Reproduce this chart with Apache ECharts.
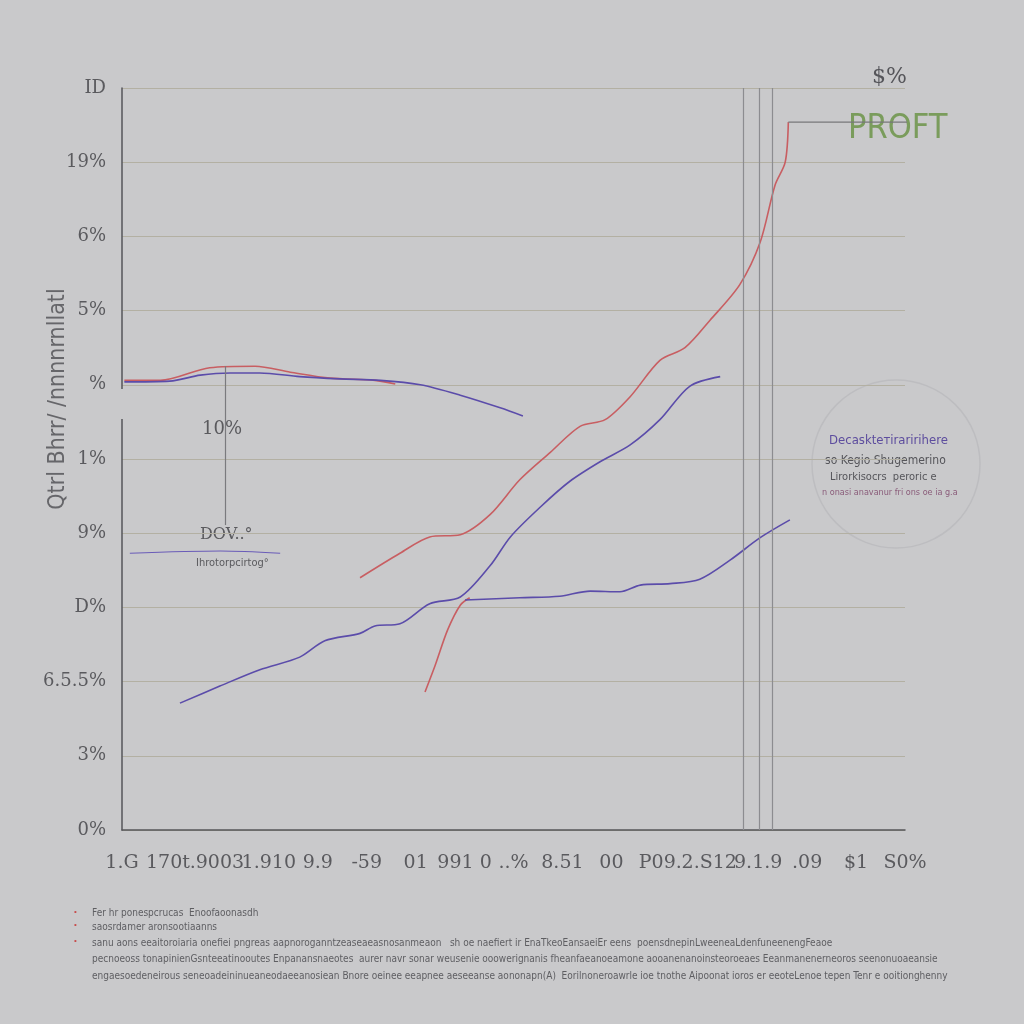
<!DOCTYPE html>
<html>
<head>
<meta charset="UTF-8">
<title>Profit chart</title>
<script src="https://cdn.jsdelivr.net/npm/echarts@6/dist/echarts.min.js"></script>
<style>
  html, body { margin: 0; padding: 0; background: #c9c9cb; }
  #chart { width: 1024px; height: 1024px; }
</style>
</head>
<body>
<div id="chart"></div>
<script>
// tick labels (garbled in the original)
const yLabels = ['0%', '3%', '6.5.5%', 'D%', '9%', '1%', '%', '5%', '6%', '19%', 'ID'];
const xLabels = ['1.G', '170t.', '9003', '1.910', '9.9', '-59', '01', '991 0', '..%', '8.51', '00', 'P09.', '2.S12', '9.1.9', '.09', '$1', 'S0%'];

// series as [x, y] pairs
const redTop = [[0.3,60.6],[4.9,60.6],[11.2,62.3],[17.0,62.5],[21.5,61.7],[26.6,60.9],[32.3,60.6],[34.9,60.1]];
const purpleTop = [[0.3,60.4],[6.1,60.5],[10.0,61.3],[13.8,61.6],[17.6,61.6],[22.7,61.1],[27.8,60.8],[33.0,60.6],[38.1,60.0],[43.2,58.6],[48.3,56.9],[51.2,55.8]];
const redMain = [[30.4,34.0],[35.5,37.3],[39.3,39.5],[43.2,39.8],[47.0,42.5],[50.8,47.2],[54.7,50.9],[58.5,54.4],[61.7,55.3],[64.9,58.4],[68.7,63.3],[71.9,65.0],[75.1,68.7],[78.9,73.5],[81.5,79.2],[83.4,86.9],[84.7,90.0],[85.1,95.4]];
const purpleMain = [[7.4,17.1],[12.5,19.4],[17.6,21.6],[22.7,23.3],[25.9,25.5],[30.4,26.5],[32.3,27.5],[35.5,27.8],[39.3,30.5],[43.2,31.4],[47.0,35.6],[49.6,39.5],[53.4,43.5],[57.2,47.0],[61.0,49.6],[64.9,51.9],[68.7,55.3],[72.5,59.8],[76.4,61.1]];
const redShort = [[38.7,18.6],[40.0,22.2],[41.6,27.0],[43.2,30.3],[44.4,31.3]];
const purpleLow = [[43.8,31.0],[50.8,31.3],[55.9,31.5],[59.8,32.2],[63.6,32.1],[66.2,33.0],[70.0,33.2],[73.8,33.8],[77.7,36.4],[81.5,39.4],[85.3,41.8]];
const purpleStub = [[1.0,37.3],[12.6,37.6],[20.2,37.3]];
const profitLine = [[85.1,95.4],[105.0,95.4]];
const vLines = [79.4, 81.4, 83.1];

const RED = '#c85e62';
const PURPLE = '#5b4caa';
const TXT = '#5a5a5e';

function line(name, data, color, width) {
    return {
        name: name, type: 'line', data: data, symbol: 'none', smooth: 0.3,
        clip: false,
        lineStyle: { color: color, width: width || 1.6 }
    };
}

const series = [
    line('redTop', redTop, RED),
    line('purpleTop', purpleTop, PURPLE),
    line('redMain', redMain, RED),
    line('purpleMain', purpleMain, PURPLE),
    line('redShort', redShort, RED),
    line('purpleLow', purpleLow, PURPLE),
    line('purpleStub', purpleStub, '#6a5cb8', 1.2),
    line('profit', profitLine, '#77777a', 1.4)
];
series[0].markLine = {
    silent: true, symbol: 'none', label: { show: false },
    lineStyle: { color: '#8c8c90', type: 'solid', width: 1.2 },
    data: vLines.map(v => ({ xAxis: v })).concat([[{ coord: [13.2, 62.5] }, { coord: [13.2, 41.1] }]])
};
series[0].markLine.data[series[0].markLine.data.length - 1][0].lineStyle = { color: '#7a7a7e', width: 1.2 };

const option = {
    backgroundColor: '#c9c9cb',
    animation: false,
    grid: { left: 122, right: 119, top: 88, bottom: 194, outerBoundsMode: 'none', containLabel: false },
    xAxis: {
        type: 'value', min: 0, max: 100, interval: 6.25,
        axisLine: { show: true, lineStyle: { color: '#55555a', width: 1.5 } },
        axisTick: { show: false },
        splitLine: { show: false },
        axisLabel: {
            margin: 24, color: TXT, fontSize: 19, fontFamily: 'DejaVu Serif',
            formatter: (v) => xLabels[Math.round(v / 6.25)] || ''
        }
    },
    yAxis: {
        type: 'value', min: 0, max: 100, interval: 10,
        name: 'Qtrl Bhrr/ /nnnnrnllatl', nameLocation: 'middle', nameGap: 52, nameRotate: 90,
        nameMoveOverlap: false,
        nameTextStyle: { color: '#66666a', fontSize: 23, fontFamily: 'DejaVu Sans Condensed', padding: [0, 0, 0, 120] },
        axisLine: { show: true, lineStyle: { color: '#55555a', width: 1.5 } },
        axisTick: { show: false },
        splitLine: { show: true, lineStyle: { color: '#b3b0a3', width: 1.2 } },
        axisLabel: {
            margin: 16, color: TXT, fontSize: 18, fontFamily: 'DejaVu Serif',
            formatter: (v) => yLabels[Math.round(v / 10)] || ''
        }
    },
    series: series,
    graphic: [
        { type: 'rect', shape: { x: 118, y: 389, width: 8, height: 30 }, style: { fill: '#c9c9cb' }, z: 100 },
        { type: 'text', left: 872, top: 66, style: { text: '$%', fill: '#55555a', font: '22px "DejaVu Serif"' } },
        { type: 'text', left: 848, top: 112, style: { text: 'PROFT', fill: '#7a9c5c', font: '34px "DejaVu Sans Condensed"' } },
        { type: 'text', left: 202, top: 420, style: { text: '10%', fill: '#5a5a5e', font: '18px "DejaVu Serif"' } },
        { type: 'text', left: 200, top: 527, style: { text: 'DOV..\u00b0', fill: '#5a5a5e', font: '16px "DejaVu Serif"' } },
        { type: 'text', left: 196, top: 558, style: { text: 'Ihrotorpcirtog\u00b0', fill: '#5a5a5e', font: '11px "DejaVu Sans Condensed"' } },
        { type: 'circle', shape: { cx: 896, cy: 464, r: 84 }, style: { fill: 'none', stroke: '#bdbdc0', lineWidth: 1.5 } },
        { type: 'text', left: 829, top: 434, style: { text: 'Decaskteтiraririhere', fill: '#5d4d9e', font: '13px "DejaVu Sans Condensed"' } },
        { type: 'text', left: 825, top: 455, style: { text: 'so Kegio Shugemerino', fill: '#55555a', font: '12px "DejaVu Sans Condensed"' } },
        { type: 'text', left: 830, top: 472, style: { text: 'Lirorkisocrs  peroric e', fill: '#55555a', font: '11px "DejaVu Sans Condensed"' } },
        { type: 'text', left: 822, top: 488, style: { text: 'n onasi anavanur fri ons oe ia g.a', fill: '#8a5c7a', font: '9px "DejaVu Sans Condensed"' } },
        { type: 'text', left: 74, top: 908, style: { text: '\u2022', fill: '#c84a4a', font: '8px sans-serif' } },
        { type: 'text', left: 74, top: 921, style: { text: '\u2022', fill: '#c84a4a', font: '8px sans-serif' } },
        { type: 'text', left: 74, top: 937, style: { text: '\u2022', fill: '#c84a4a', font: '8px sans-serif' } },
        { type: 'text', left: 92, top: 908, style: { text: 'Fer hr ponespcrucas  Enoofaoonasdh', fill: '#5e5e62', font: '10px "DejaVu Sans Condensed"' } },
        { type: 'text', left: 92, top: 922, style: { text: 'saosrdamer aronsootiaanns', fill: '#5e5e62', font: '10px "DejaVu Sans Condensed"' } },
        { type: 'text', left: 92, top: 938, style: { text: 'sanu aons eeaitoroiaria onefiei pngreas aapnoroganntzeaseaeasnosanmeaon   sh oe naefiert ir EnaTkeoEansaeiEr eens  poensdnepinLweeneaLdenfuneenengFeaoe', fill: '#5e5e62', font: '10px "DejaVu Sans Condensed"' } },
        { type: 'text', left: 92, top: 954, style: { text: 'pecnoeoss tonapinienGsnteeatinooutes Enpanansnaeotes  aurer navr sonar weusenie ooowerignanis fheanfaeanoeamone aooanenanoinsteoroeaes Eeanmanenerneoros seenonuoaeansie', fill: '#5e5e62', font: '10px "DejaVu Sans Condensed"' } },
        { type: 'text', left: 92, top: 971, style: { text: 'engaesoedeneirous seneoadeininueaneodaeeanosiean Bnore oeinee eeapnee aeseeanse aononapn(A)  Eorilnoneroawrle ioe tnothe Aipoonat ioros er eeoteLenoe tepen Tenr e ooitionghenny', fill: '#5e5e62', font: '10px "DejaVu Sans Condensed"' } }
    ]
};

const chart = echarts.init(document.getElementById('chart'));
chart.setOption(option);
</script>
</body>
</html>
